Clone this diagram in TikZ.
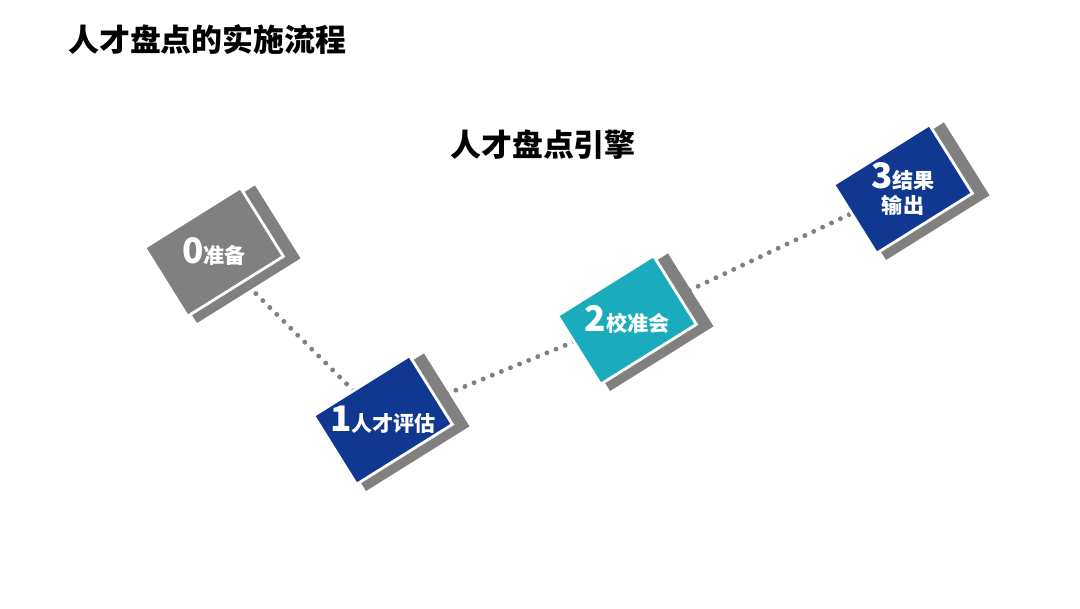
\documentclass[tikz,border=0pt]{standalone}
\usepackage{fontspec}
\setmainfont{Noto Sans CJK SC}
\usetikzlibrary{backgrounds}
\definecolor{stepgray}{RGB}{128,128,128}
\definecolor{stepblue}{RGB}{16,56,145}
\definecolor{stepteal}{RGB}{26,172,188}
\newcommand{\bignum}[1]{{\fontsize{25}{26}\selectfont #1}}

\begin{document}
\begin{tikzpicture}[font=\bfseries\fontsize{15}{18}\selectfont,
  card/.style={rotate=32,minimum width=2.825cm,minimum height=2.025cm,
               draw=white,line width=2pt,inner sep=0pt},
  shade/.style={rotate=32,minimum width=3.05cm,minimum height=2.15cm,
                fill=stepgray,inner sep=0pt},
  dotline/.style={stepgray,line width=3.5pt,line cap=round,dash pattern=on 0pt off 7pt},
  lbl/.style={text=white,align=center}]
\useasboundingbox (0,0) rectangle (27,15.2);
\node[anchor=west,font=\bfseries\fontsize{22}{26}\selectfont] (title) at (1.58,14.2) {人才盘点的实施流程};
\node[font=\bfseries\fontsize{22}{26}\selectfont] (engine) at (13.575,11.575) {人才盘点引擎};
\node[shade] (s0) at (5.65,8.845) {};
\node[card,fill=stepgray] (b0) at (5.35,8.90) {};
\node[lbl] (t0) at (b0) {\bignum{0}准备};
\node[shade] (s1) at (9.875,4.645) {};
\node[card,fill=stepblue] (b1) at (9.575,4.70) {};
\node[lbl] (t1) at (b1) {\bignum{1}人才评估};
\node[shade] (s2) at (15.975,7.145) {};
\node[card,fill=stepteal] (b2) at (15.675,7.20) {};
\node[lbl] (t2) at (b2) {\bignum{2}校准会};
\node[shade] (s3) at (22.875,10.42) {};
\node[card,fill=stepblue] (b3) at (22.575,10.475) {};
\node[lbl] (t3) at (b3) {\bignum{3}结果\\输出};
\begin{scope}[on background layer]
\draw[dotline] (b0.center) -- (b1.center);
\draw[dotline] (b1.center) -- (b2.center);
\draw[dotline] (b2.center) -- (b3.center);
\end{scope}
\end{tikzpicture}
\end{document}
